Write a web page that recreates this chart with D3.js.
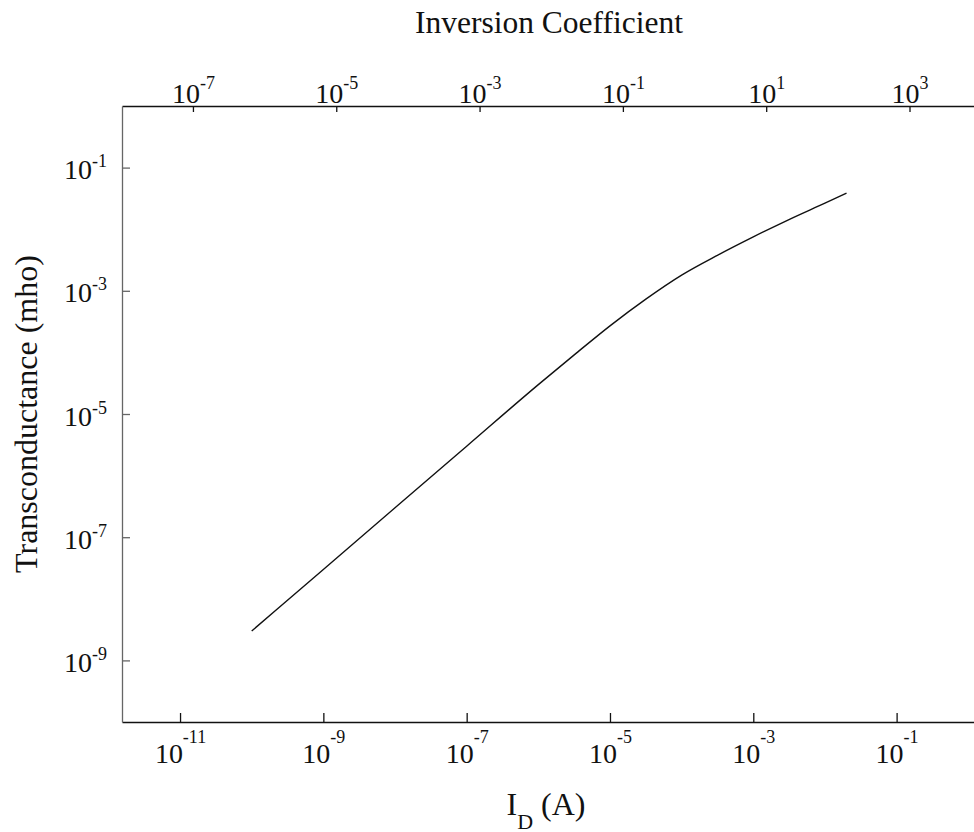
<!DOCTYPE html>
<html>
<head>
<meta charset="utf-8">
<script src="https://cdn.jsdelivr.net/npm/d3@7"></script>
<style>
  body { margin: 0; background: #fff; }
  text { font-family: "Liberation Serif", "Times New Roman", serif; fill: #111; }
</style>
</head>
<body>
<div id="chart"></div>
<script>
// drain current (A) and transconductance (mho)
var idValues = [1e-10, 1e-9, 1e-8, 1e-7, 1e-6, 3.2e-6, 1e-5, 3.2e-5, 1e-4, 3.2e-4, 1e-3, 3.2e-3, 1e-2, 2e-2];
var gmValues = [3.0e-9, 3.0e-8, 3.0e-7, 3.0e-6, 3.0e-5, 9.2e-5, 2.7e-4, 7.4e-4, 1.8e-3, 3.8e-3, 7.5e-3, 1.45e-2, 2.65e-2, 3.85e-2];

var idTicks = [1e-11, 1e-9, 1e-7, 1e-5, 1e-3, 1e-1];
var icTicks = [1e-7, 1e-5, 1e-3, 1e-1, 1e1, 1e3];
var gmTicks = [1e-9, 1e-7, 1e-5, 1e-3, 1e-1];

var idDomain = [Math.pow(10, -11.81), Math.pow(10, 0.08)];
var icDomain = [Math.pow(10, -7.99), Math.pow(10, 3.9)];
var gmDomain = [1e-10, 1];

var width = 974;
var height = 832;
var margin = { top: 106, right: 0, bottom: 110, left: 122 };
var innerWidth = width - margin.left - margin.right;
var innerHeight = height - margin.top - margin.bottom;

var svg = d3.select("#chart").append("svg")
  .attr("width", width)
  .attr("height", height);

var g = svg.append("g")
  .attr("transform", "translate(" + margin.left + "," + margin.top + ")");

var xScale = d3.scaleLog().domain(idDomain).range([0, innerWidth]);
var xTop = d3.scaleLog().domain(icDomain).range([0, innerWidth]);
var yScale = d3.scaleLog().domain(gmDomain).range([innerHeight, 0]);

function exponent(v) {
  return Math.round(Math.log10(v));
}

// power-of-ten label with a raised exponent
function powLabel(sel, rise) {
  sel.each(function(d) {
    var t = d3.select(this).text(null);
    t.append("tspan").attr("font-size", 28).text("10");
    t.append("tspan").attr("font-size", 18).attr("dy", -rise).text(exponent(d));
  });
}

// bottom axis: ID
var xAxisG = g.append("g")
  .attr("transform", "translate(0," + innerHeight + ")")
  .call(d3.axisBottom(xScale).tickValues(idTicks).tickSize(-9).tickSizeOuter(0).tickFormat(""));
xAxisG.selectAll(".tick text").remove();
xAxisG.selectAll(".tick").append("text")
  .attr("text-anchor", "middle")
  .attr("y", 41)
  .call(powLabel, 20);

// top axis: inversion coefficient
var topAxisG = g.append("g")
  .call(d3.axisTop(xTop).tickValues(icTicks).tickSize(-6).tickSizeOuter(0).tickFormat(""));
topAxisG.selectAll(".tick text").remove();
topAxisG.selectAll(".tick").append("text")
  .attr("text-anchor", "middle")
  .attr("y", -3)
  .call(powLabel, 14);

// left axis: gm
var yAxisG = g.append("g")
  .call(d3.axisLeft(yScale).tickValues(gmTicks).tickSize(-8).tickSizeOuter(0).tickFormat(""));
yAxisG.selectAll(".tick text").remove();
yAxisG.selectAll(".tick").append("text")
  .attr("text-anchor", "end")
  .attr("x", -15)
  .attr("y", 11)
  .call(powLabel, 12);

g.selectAll(".domain, .tick line")
  .attr("stroke", "#111")
  .attr("stroke-width", 1.3);
yAxisG.selectAll(".domain, .tick line").attr("stroke", "#666");

// curve
var line = d3.line()
  .x(function(d) { return xScale(d[0]); })
  .y(function(d) { return yScale(d[1]); })
  .curve(d3.curveMonotoneX);

g.append("path")
  .datum(idValues.map(function(v, i) { return [v, gmValues[i]]; }))
  .attr("fill", "none")
  .attr("stroke", "#111")
  .attr("stroke-width", 1.4)
  .attr("d", line);

// titles
svg.append("text")
  .attr("x", 549)
  .attr("y", 33)
  .attr("text-anchor", "middle")
  .attr("font-size", 31.5)
  .text("Inversion Coefficient");

svg.append("text")
  .attr("transform", "translate(37,414) rotate(-90)")
  .attr("text-anchor", "middle")
  .attr("font-size", 32)
  .text("Transconductance (mho)");

var xTitle = svg.append("text")
  .attr("x", 546)
  .attr("y", 815)
  .attr("text-anchor", "middle")
  .attr("font-size", 32);
xTitle.append("tspan").text("I");
xTitle.append("tspan").attr("font-size", 22).attr("dy", 14).text("D");
xTitle.append("tspan").attr("dy", -14).text(" (A)");
</script>
</body>
</html>
